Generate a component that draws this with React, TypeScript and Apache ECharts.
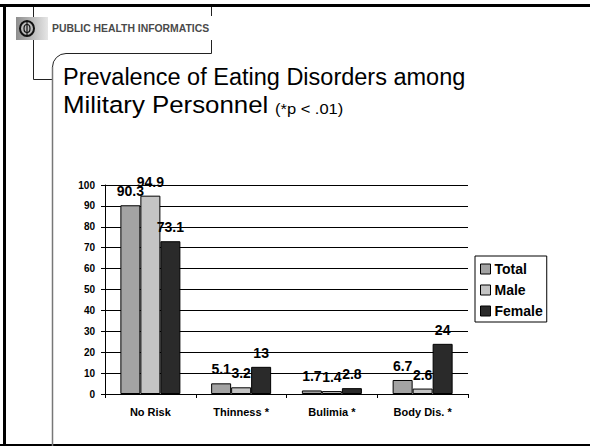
import React, { useEffect, useRef } from "react";
import * as echarts from "echarts";

const categories = ["No Risk", "Thinness *", "Bulimia *", "Body Dis. *"];
const totalValues = [90.3, 5.1, 1.7, 6.7];
const maleValues = [94.9, 3.2, 1.4, 2.6];
const femaleValues = [73.1, 13, 2.8, 24];
const seriesNames = ["Total", "Male", "Female"];
const titleLine1 = "Prevalence of Eating Disorders among";
const titleLine2 = "Military Personnel";
const titleNote = "(*p < .01)";
const headerText = "PUBLIC HEALTH INFORMATICS";

const FONT = "Arial, 'Liberation Sans', sans-serif";

export default function App() {
  const ref = useRef<HTMLDivElement>(null);
  useEffect(() => {
    if (!ref.current) return;
    const chart = echarts.init(ref.current, undefined, { renderer: "svg" });
    const colors = ["#a3a3a3", "#c4c4c4", "#2a2a2a"];
    const values = [totalValues, maleValues, femaleValues];
    const label = {
      show: true,
      position: "top" as const,
      distance: 7,
      color: "#000",
      fontFamily: FONT,
      fontWeight: "bold" as const,
      fontSize: 14,
    };
    chart.setOption({
      animation: false,
      backgroundColor: "#fff",
      grid: { left: 105, top: 185, width: 363, height: 209, containLabel: false },
      legend: {
        orient: "vertical",
        left: 475,
        top: 256,
        padding: [6, 4, 4, 5],
        itemGap: 7,
        itemWidth: 10,
        itemHeight: 10,
        icon: "rect",
        borderColor: "#000",
        borderWidth: 1,
        backgroundColor: "#fff",
        itemStyle: { borderColor: "#000", borderWidth: 1 },
        textStyle: { fontFamily: FONT, fontWeight: "bold", fontSize: 14, color: "#000", padding: [0, 0, 0, -1] },
        data: seriesNames,
      },
      xAxis: {
        type: "category",
        data: categories,
        axisLine: { show: true, lineStyle: { color: "#000", width: 1 } },
        axisTick: { show: true, length: 4, alignWithLabel: false, lineStyle: { color: "#000" } },
        axisLabel: { fontFamily: FONT, fontWeight: "bold", fontSize: 11, color: "#000", margin: 12 },
      },
      yAxis: {
        type: "value",
        min: 0,
        max: 100,
        interval: 10,
        axisLine: { show: true, lineStyle: { color: "#000", width: 1 } },
        axisTick: { show: true, length: 4, lineStyle: { color: "#000" } },
        axisLabel: { fontFamily: FONT, fontWeight: "bold", fontSize: 10, color: "#000", margin: 10 },
        splitLine: { show: true, lineStyle: { color: "#000", width: 1 } },
      },
      series: seriesNames.map((name, i) => ({
        name,
        type: "bar",
        data: values[i],
        barWidth: 20,
        barGap: "0%",
        itemStyle: { color: colors[i], borderColor: "#000", borderWidth: 1 },
        label,
      })),
      graphic: [
        { type: "rect", shape: { x: 0, y: 4, width: 590, height: 3 }, style: { fill: "#000" }, silent: true },
        { type: "rect", shape: { x: 3, y: 4, width: 3, height: 442 }, style: { fill: "#000" }, silent: true },
        { type: "rect", shape: { x: 0, y: 444, width: 590, height: 2 }, style: { fill: "#000" }, silent: true },
        { type: "polyline", shape: { points: [[33.5, 7], [33.5, 79.5], [53, 79.5]] }, style: { stroke: "#222", lineWidth: 1, fill: null }, silent: true },
        { type: "polyline", shape: { points: [[211.5, 7], [211.5, 16]] }, style: { stroke: "#222", lineWidth: 1, fill: null }, silent: true },
        { type: "polyline", shape: { points: [[211.5, 40], [211.5, 53.5], [66, 53.5]] }, style: { stroke: "#222", lineWidth: 1, fill: null }, silent: true },
        { type: "arc", shape: { cx: 66, cy: 67, r: 13.5, startAngle: Math.PI, endAngle: Math.PI * 1.5, clockwise: true }, style: { stroke: "#222", lineWidth: 1, fill: null }, silent: true },
        { type: "polyline", shape: { points: [[52.5, 67], [52.5, 446]] }, style: { stroke: "#777", lineWidth: 1.5, fill: null }, silent: true },
        {
          type: "rect",
          shape: { x: 16, y: 17, width: 32, height: 23 },
          style: {
            fill: new echarts.graphic.LinearGradient(0, 0, 1, 0, [
              { offset: 0, color: "#8e8e8e" },
              { offset: 1, color: "#e6e6e6" },
            ]),
          },
          silent: true,
        },
        { type: "ellipse", shape: { cx: 27, cy: 28.5, rx: 7, ry: 7.5 }, style: { stroke: "#111", lineWidth: 2, fill: "#bbb" }, silent: true },
        { type: "ellipse", shape: { cx: 27, cy: 28.5, rx: 3, ry: 4 }, style: { stroke: "#111", lineWidth: 1.2, fill: null }, silent: true },
        { type: "line", shape: { x1: 27, y1: 22, x2: 27, y2: 35 }, style: { stroke: "#111", lineWidth: 1.2 }, silent: true },
        {
          type: "text",
          x: 52,
          y: 28.5,
          scaleX: 1.04,
          style: { text: headerText, fill: "#4a4a4a", font: `bold 10px ${FONT}`, verticalAlign: "middle", align: "left" },
          silent: true,
        },
        {
          type: "text",
          x: 63,
          y: 77,
          style: { text: titleLine1, fill: "#000", font: `23.5px ${FONT}`, verticalAlign: "middle", align: "left" },
          silent: true,
        },
        {
          type: "text",
          x: 63,
          y: 105,
          scaleX: 1.1,
          style: { text: titleLine2, fill: "#000", font: `23.5px ${FONT}`, verticalAlign: "middle", align: "left" },
          silent: true,
        },
        {
          type: "text",
          x: 275,
          y: 109,
          scaleX: 1.1,
          style: { text: titleNote, fill: "#000", font: `15px ${FONT}`, verticalAlign: "middle", align: "left" },
          silent: true,
        },
      ],
    });
    return () => chart.dispose();
  }, []);
  return <div ref={ref} style={{ position: "fixed", left: 0, top: 0, width: 590, height: 446 }} />;
}
